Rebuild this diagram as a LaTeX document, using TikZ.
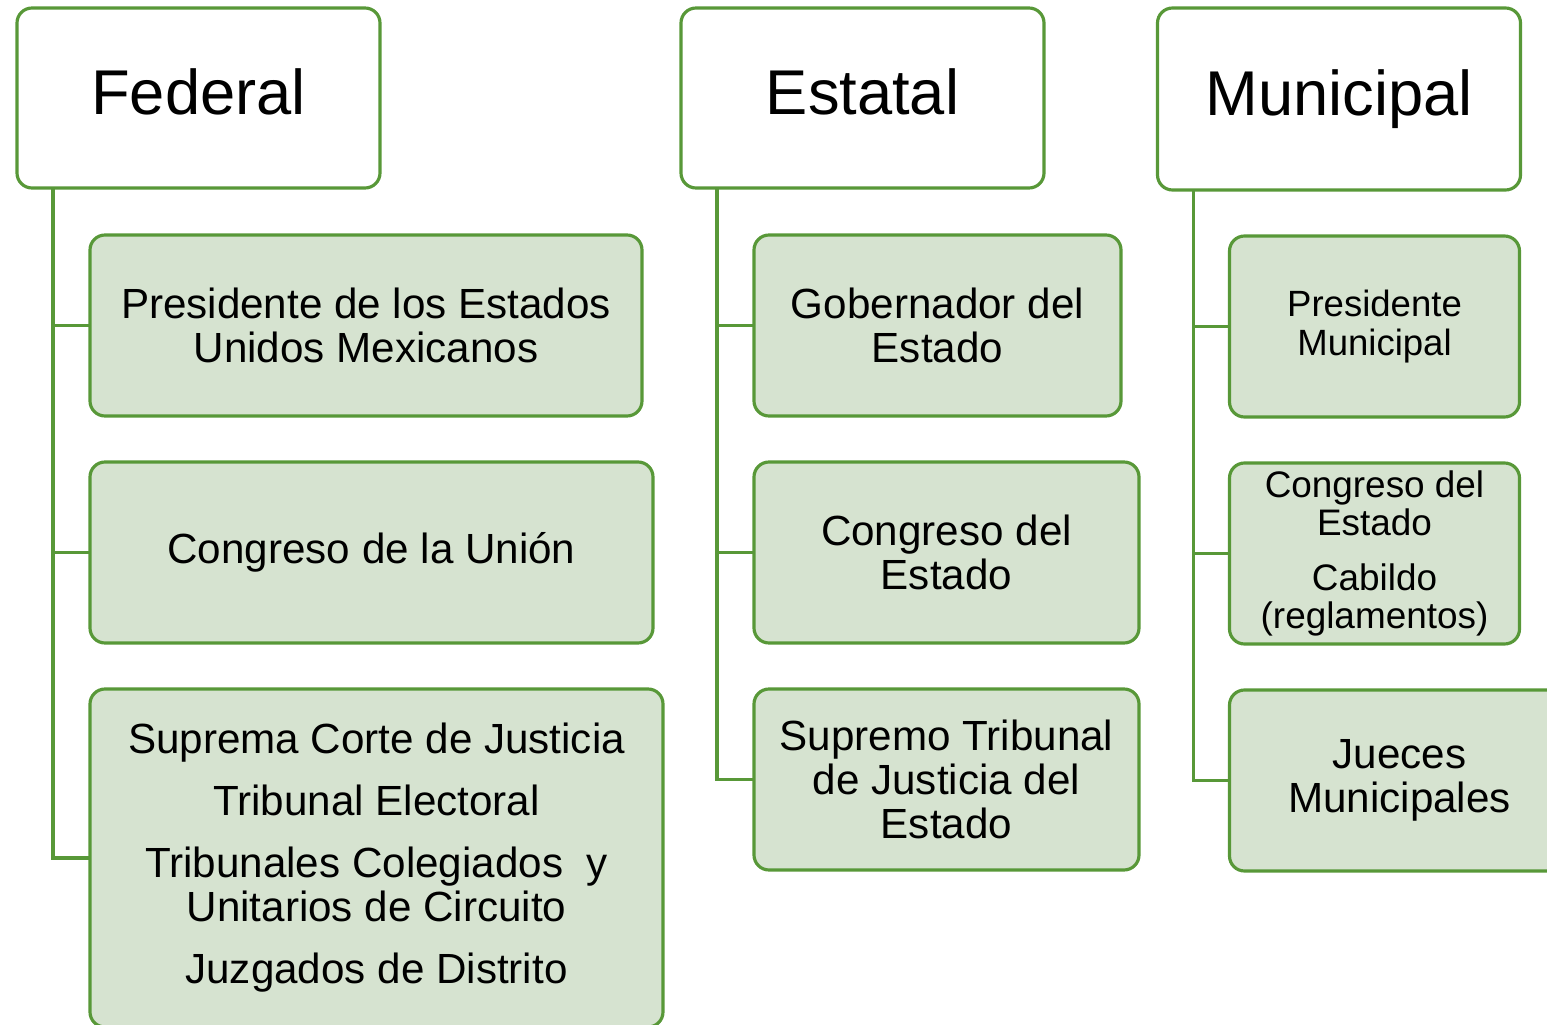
\documentclass[tikz,border=0pt]{standalone}
\usepackage{fontspec}
\setmainfont{Liberation Sans}
\usetikzlibrary{positioning}

\definecolor{boxgreen}{RGB}{88,152,56}
\definecolor{leafgreen}{RGB}{214,227,208}

\begin{document}
\begin{tikzpicture}[
		titlebox/.style={rectangle,rounded corners=0.15cm,draw=boxgreen,line width=0.9pt,fill=white,minimum width=3.63cm,minimum height=1.8cm,inner sep=0pt,outer sep=0pt,font=\fontsize{18}{20}\selectfont,text height=1.14em,text depth=0.2em},
		itembox/.style={rectangle,rounded corners=0.15cm,draw=boxgreen,line width=0.9pt,fill=leafgreen,minimum height=1.81cm,inner sep=0pt,outer sep=0pt,align=center,font=\fontsize{12}{12.4}\selectfont},
		conn/.style={draw=boxgreen,line width=0.9pt}]
		
		\useasboundingbox (0,0) rectangle (15.47,10.24);
		\clip (0,0) rectangle (15.47,10.24);
		
		% top row
		\node[titlebox] (Fed) at (1.985,9.26) {Federal};
		\node[titlebox] (Est) at (8.625,9.26) {Estatal};
		\node[titlebox,minimum height=1.82cm] (Mun) at (13.39,9.25) {Municipal};
		
		% federal
		\node[itembox,minimum width=5.52cm,anchor=north west] (F1) at ([xshift=0.73cm,yshift=-0.47cm]Fed.south west) {Presidente de los Estados\\Unidos Mexicanos};
		\node[itembox,minimum width=5.63cm,below=0.46cm of F1.south west,anchor=north west] (F2) {Congreso de la Unión};
		\node[itembox,minimum width=5.73cm,minimum height=3.38cm,below=0.46cm of F2.south west,anchor=north west,font=\fontsize{12}{12.6}\selectfont] (F3) {Suprema Corte de Justicia\\[5pt]Tribunal Electoral\\[5pt]Tribunales Colegiados \ y\\Unitarios de Circuito\\[5pt]Juzgados de Distrito};
		
		% estatal
		\node[itembox,minimum width=3.67cm,anchor=north west] (E1) at ([xshift=0.73cm,yshift=-0.47cm]Est.south west) {Gobernador del\\Estado};
		\node[itembox,minimum width=3.85cm,below=0.46cm of E1.south west,anchor=north west] (E2) {Congreso del\\Estado};
		\node[itembox,minimum width=3.85cm,below=0.46cm of E2.south west,anchor=north west] (E3) {Supremo Tribunal\\de Justicia del\\Estado};
		
		% municipal
		\node[itembox,minimum width=2.9cm,anchor=north west,font=\fontsize{10.4}{11.2}\selectfont] (M1) at ([xshift=0.72cm,yshift=-0.46cm]Mun.south west) {Presidente\\Municipal};
		\node[itembox,minimum width=2.9cm,below=0.46cm of M1.south west,anchor=north west,font=\fontsize{10.5}{10.9}\selectfont] (M2) {Congreso del\\Estado\\[4.6pt]Cabildo\\(reglamentos)};
		\node[itembox,minimum width=3.4cm,below=0.46cm of M2.south west,anchor=north west] (M3) {Jueces\\Municipales};
		
		\draw[conn] ([xshift=0.36cm]Fed.south west) |- (F1.west);
		\draw[conn] ([xshift=0.36cm]Fed.south west) |- (F2.west);
		\draw[conn] ([xshift=0.36cm]Fed.south west) |- (F3.west);
		
		\draw[conn] ([xshift=0.36cm]Est.south west) |- (E1.west);
		\draw[conn] ([xshift=0.36cm]Est.south west) |- (E2.west);
		\draw[conn] ([xshift=0.36cm]Est.south west) |- (E3.west);
		
		\draw[conn] ([xshift=0.36cm]Mun.south west) |- (M1.west);
		\draw[conn] ([xshift=0.36cm]Mun.south west) |- (M2.west);
		\draw[conn] ([xshift=0.36cm]Mun.south west) |- (M3.west);
		
	\end{tikzpicture}
\end{document}
